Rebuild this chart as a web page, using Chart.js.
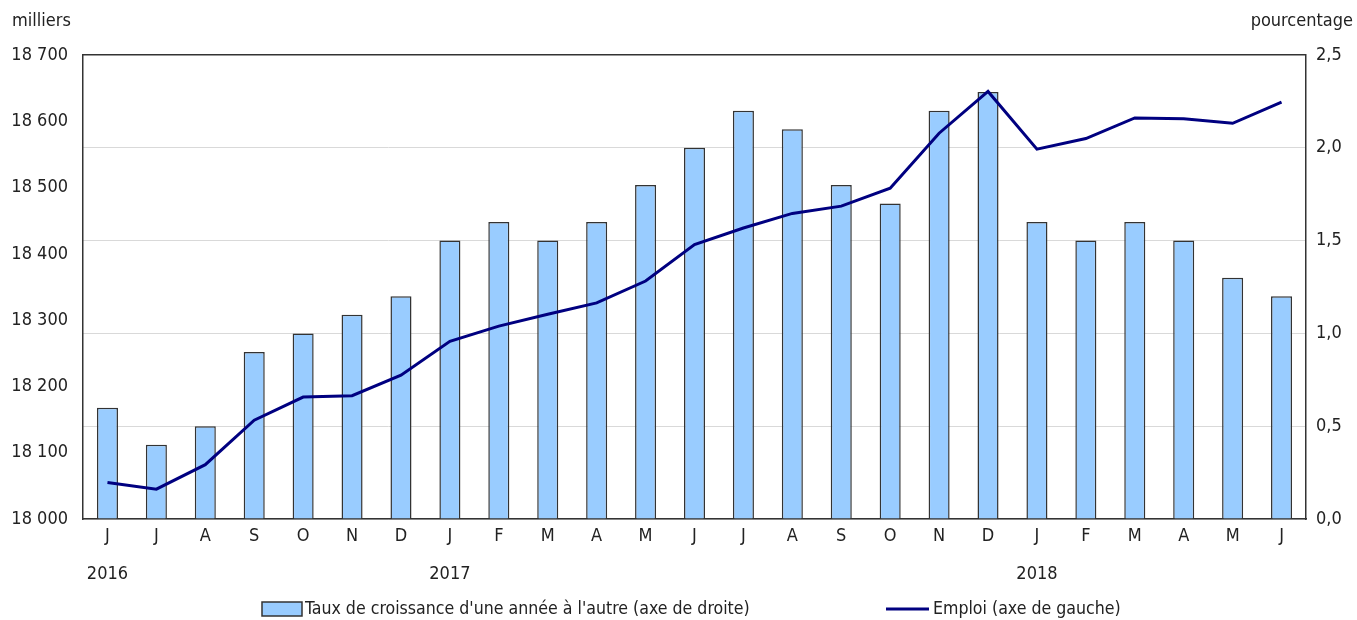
<!DOCTYPE html>
<html>
<head>
<meta charset="utf-8">
<script src="https://cdn.jsdelivr.net/npm/chart.js@4/dist/chart.umd.min.js"></script>
<style>
  html, body { margin: 0; padding: 0; background: #fff; }
  #wrap { width: 1357px; height: 620px; position: relative; }
</style>
</head>
<body>
<div id="wrap"><canvas id="emploiChart"></canvas></div>
<script>
// Data
const months = ['J', 'J', 'A', 'S', 'O', 'N', 'D', 'J', 'F', 'M', 'A', 'M', 'J', 'J', 'A', 'S', 'O', 'N', 'D', 'J', 'F', 'M', 'A', 'M', 'J'];
const years = ['2016', '', '', '', '', '', '', '2017', '', '', '', '', '', '', '', '', '', '', '', '2018', '', '', '', '', ''];
const growthRate = [0.6, 0.4, 0.5, 0.9, 1.0, 1.1, 1.2, 1.5, 1.6, 1.5, 1.6, 1.8, 2.0, 2.2, 2.1, 1.8, 1.7, 2.2, 2.3, 1.6, 1.5, 1.6, 1.5, 1.3, 1.2];
const employment = [18055, 18045, 18082, 18149, 18184, 18186, 18217, 18268, 18291, 18309, 18326, 18359, 18414, 18439, 18461, 18472, 18499, 18582, 18645, 18558, 18574, 18605, 18604, 18597, 18629];
const leftTicks = { min: 18000, max: 18700, step: 100 };
const rightTicks = { min: 0, max: 2.5, step: 0.5 };
const leftTitle = 'milliers';
const rightTitle = 'pourcentage';
const barLabel = "Taux de croissance d'une année à l'autre (axe de droite)";
const lineLabel = 'Emploi (axe de gauche)';

const FONT = '"Liberation Sans Narrow", "DejaVu Sans Condensed", "Arial Narrow", sans-serif';
const TEXT = '#222222';
const BAR_FILL = '#99ccff';
const BAR_EDGE = '#333333';
const LINE_COLOR = '#000080';

// Titles and legend drawn on the canvas
const extrasPlugin = {
    id: 'extras',
    afterDraw(chart) {
        const ctx = chart.ctx;
        ctx.save();
        ctx.fillStyle = TEXT;
        ctx.font = '18px ' + FONT;
        ctx.textBaseline = 'middle';
        ctx.textAlign = 'left';
        ctx.fillText(leftTitle, 12, 21);
        ctx.textAlign = 'right';
        ctx.fillText(rightTitle, chart.width - 4, 21);

        // legend
        const ly = 609;
        ctx.font = '17.6px ' + FONT;
        ctx.textAlign = 'left';
        ctx.fillStyle = BAR_FILL;
        ctx.strokeStyle = BAR_EDGE;
        ctx.lineWidth = 1.5;
        ctx.fillRect(262, ly - 7, 40, 14);
        ctx.strokeRect(262, ly - 7, 40, 14);
        ctx.fillStyle = TEXT;
        ctx.fillText(barLabel, 305, ly);

        ctx.strokeStyle = LINE_COLOR;
        ctx.lineWidth = 3;
        ctx.beginPath();
        ctx.moveTo(886, ly);
        ctx.lineTo(929, ly);
        ctx.stroke();
        ctx.fillText(lineLabel, 933, ly);
        ctx.restore();
    }
};

const ctx = document.getElementById('emploiChart');
new Chart(ctx, {
    type: 'bar',
    data: {
        labels: months.map((m, i) => years[i] ? [m, '', years[i]] : [m]),
        datasets: [
            {
                type: 'line',
                label: lineLabel,
                data: employment,
                yAxisID: 'yLeft',
                borderColor: LINE_COLOR,
                borderWidth: 3,
                pointRadius: 0,
                tension: 0,
                order: 0
            },
            {
                type: 'bar',
                label: barLabel,
                data: growthRate,
                yAxisID: 'yRight',
                backgroundColor: BAR_FILL,
                borderColor: BAR_EDGE,
                borderWidth: 1.5,
                categoryPercentage: 1,
                barPercentage: 0.43,
                order: 1
            }
        ]
    },
    options: {
        responsive: true,
        maintainAspectRatio: false,
        animation: false,
        layout: { padding: { top: 55, left: 0, right: 0, bottom: 0 } },
        plugins: {
            legend: { display: false },
            tooltip: { enabled: false }
        },
        scales: {
            x: {
                grid: { display: false, drawTicks: false },
                border: { display: true, color: BAR_EDGE, width: 1.5 },
                ticks: {
                    autoSkip: false,
                    maxRotation: 0,
                    padding: 8,
                    color: TEXT,
                    font: { family: FONT, size: 18, lineHeight: 1.05 }
                },
                afterFit: function(scale) { scale.height = 101; }
            },
            yLeft: {
                position: 'left',
                min: leftTicks.min,
                max: leftTicks.max,
                grid: { display: false, drawTicks: false },
                border: { display: true, color: BAR_EDGE, width: 1.5 },
                ticks: {
                    stepSize: leftTicks.step,
                    padding: 15,
                    color: TEXT,
                    font: { family: FONT, size: 18 },
                    callback: function(value) {
                        return String(value).replace(/\B(?=(\d{3})+(?!\d))/g, ' ');
                    }
                },
                afterFit: function(scale) { scale.width = 83; }
            },
            yRight: {
                position: 'right',
                min: rightTicks.min,
                max: rightTicks.max,
                grid: {
                    drawTicks: false,
                    color: function(c) {
                        return (c.tick && c.tick.value === rightTicks.max) ? BAR_EDGE : '#d9d9d9';
                    },
                    lineWidth: function(c) {
                        return (c.tick && c.tick.value === rightTicks.max) ? 1.5 : 1;
                    }
                },
                border: { display: true, color: BAR_EDGE, width: 1.5 },
                ticks: {
                    stepSize: rightTicks.step,
                    padding: 10,
                    color: TEXT,
                    font: { family: FONT, size: 18 },
                    callback: function(value) {
                        return value.toFixed(1).replace('.', ',');
                    }
                },
                afterFit: function(scale) { scale.width = 51; }
            }
        }
    },
    plugins: [extrasPlugin]
});
</script>
</body>
</html>
